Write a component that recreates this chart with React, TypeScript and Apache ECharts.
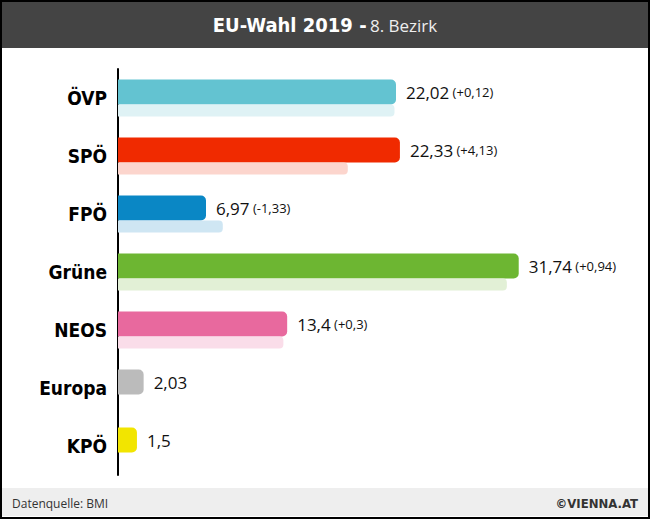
import React, { useEffect, useRef } from "react";
import * as echarts from "echarts";

const parties = ["ÖVP", "SPÖ", "FPÖ", "Grüne", "NEOS", "Europa", "KPÖ"];
const results2019 = [22.02, 22.33, 6.97, 31.74, 13.4, 2.03, 1.5];
const changes = ["+0,12", "+4,13", "-1,33", "+0,94", "+0,3", null, null];
const results2014 = [21.9, 18.2, 8.3, 30.8, 13.1, null, null];
const mainColors = ["#63c3d1", "#f02a00", "#0a87c5", "#6db632", "#e8699e", "#bbbbbb", "#f2e500"];
const shadowColors = ["#dff2f5", "#fcd5cd", "#cfe6f3", "#e2f0d6", "#fadde9", "#eeeeee", "#fcf8c0"];

const condensed = "'DejaVu Sans Condensed', 'Liberation Sans Narrow', sans-serif";
const sans = "'Open Sans', 'Noto Sans', sans-serif";

export default function App() {
  const ref = useRef<HTMLDivElement>(null);
  useEffect(() => {
    if (!ref.current) return;
    const chart = echarts.init(ref.current, null, { renderer: "svg" });
    const fmt = (v: number) => String(v).replace(".", ",");
    chart.setOption({
      animation: false,
      backgroundColor: "#ffffff",
      grid: { left: 118, width: 505, top: 69, height: 406 },
      xAxis: {
        type: "value",
        min: 0,
        max: 40,
        show: false,
      },
      yAxis: {
        type: "category",
        data: parties,
        inverse: true,
        axisLine: { show: true, lineStyle: { color: "#000", width: 2 } },
        axisTick: { show: false },
        axisLabel: {
          color: "#000",
          fontFamily: condensed,
          fontWeight: "bold",
          fontSize: 19,
          margin: 11,
        },
      },
      series: [
        {
          type: "bar",
          barWidth: 25,
          barGap: "0%",
          data: results2019.map((v, i) => ({
            value: v,
            itemStyle: { color: mainColors[i], borderRadius: [0, 5, 5, 0] },
            label: {
              show: true,
              position: "right",
              distance: 10,
              formatter: () =>
                changes[i] ? `{v|${fmt(v)}} {c|(${changes[i]})}` : `{v|${fmt(v)}}`,
              rich: {
                v: { fontFamily: sans, fontSize: 17, color: "#111" },
                c: { fontFamily: sans, fontSize: 13, color: "#111" },
              },
            },
          })),
        },
        {
          type: "bar",
          barWidth: 12,
          barGap: "0%",
          silent: true,
          data: results2014.map((v, i) => ({
            value: v === null ? "-" : v,
            itemStyle: { color: shadowColors[i], borderRadius: [0, 4, 4, 0] },
          })),
        },
      ],
      graphic: [
        { type: "rect", shape: { x: 0, y: 0, width: 650, height: 519 }, style: { fill: "none", stroke: "#000", lineWidth: 4 }, z: 10 },
        { type: "rect", shape: { x: 2, y: 2, width: 646, height: 46 }, style: { fill: "#444444" }, z: 5 },
        {
          type: "text",
          x: 325,
          y: 25,
          z: 6,
          style: {
            text: "{a|EU-Wahl 2019 -} {b|8. Bezirk}",
            align: "center",
            verticalAlign: "middle",
            rich: {
              a: { fontFamily: condensed, fontWeight: "bold", fontSize: 20, fill: "#ffffff" },
              b: { fontFamily: sans, fontSize: 17, fill: "#eeeeee" },
            },
          },
        },
        { type: "rect", shape: { x: 2, y: 488, width: 646, height: 28 }, style: { fill: "#eeeeee" }, z: 5 },
        {
          type: "text",
          x: 12,
          y: 503,
          z: 6,
          style: { text: "Datenquelle: BMI", fontFamily: sans, fontSize: 12, fill: "#333", verticalAlign: "middle" },
        },
        {
          type: "text",
          x: 638,
          y: 503,
          z: 6,
          style: {
            text: "©VIENNA.AT",
            fontFamily: condensed,
            fontWeight: "bold",
            fontSize: 13,
            fill: "#333",
            align: "right",
            verticalAlign: "middle",
          },
        },
      ],
    });
    return () => chart.dispose();
  }, []);
  return <div ref={ref} style={{ width: 650, height: 519, position: "absolute", left: 0, top: 0 }} />;
}
